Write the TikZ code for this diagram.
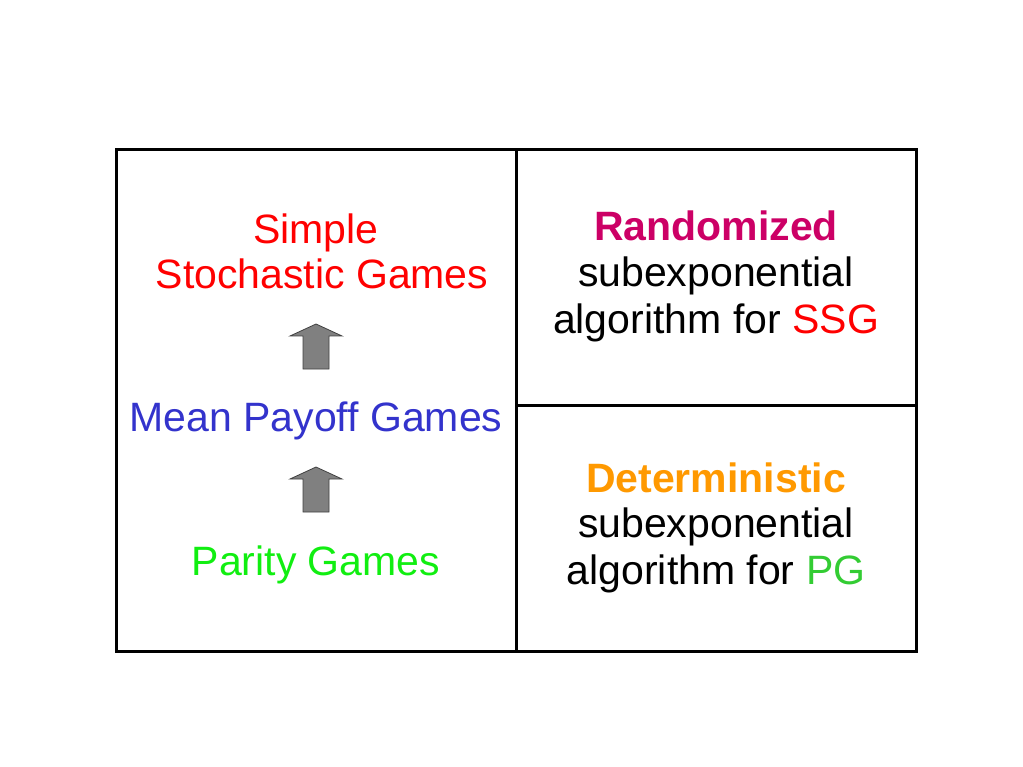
\documentclass[tikz,border=0pt]{standalone}
\usepackage{fontspec}
\setmainfont{Liberation Sans}
\definecolor{ssgred}{HTML}{FF0000}
\definecolor{mpgblue}{HTML}{3333CC}
\definecolor{pggreen}{HTML}{11EE11}
\definecolor{pgdark}{HTML}{33CC33}
\definecolor{randcol}{HTML}{CC0066}
\definecolor{detcol}{HTML}{FF9900}
\definecolor{arrowgray}{HTML}{808080}
\tikzset{
  txt/.style={anchor=base, inner sep=0pt, font=\fontsize{41}{46}\selectfont},
  grid/.style={line width=3pt, black},
  uparrow/.style={draw=black!75, line width=0.8pt, fill=arrowgray, line join=miter}
}
\newcommand{\myuparrow}[2]{% #1 = x centre, #2 = y bottom
  \draw[uparrow] (#1-13,#2) -- (#1-13,#2-33) -- (#1-26,#2-33) -- (#1,#2-45)
    -- (#1+26,#2-33) -- (#1+13,#2-33) -- (#1+13,#2) -- cycle;}
\begin{document}
\begin{tikzpicture}[x=1pt,y=-1pt]
\useasboundingbox (0,0) rectangle (1023,767);
\draw[grid] (116,150) rectangle (916,651);
\draw[grid] (516,150) -- (516,651);
\draw[grid] (516,405) -- (916,405);
% left column
\node[txt, text=ssgred] (simple) at (316,244) {Simple};
\node[txt, text=ssgred] (stoch) at (322,289) {Stochastic Games};
\node[txt, text=mpgblue] (mpg) at (316,431) {Mean Payoff Games};
\node[txt, text=pggreen] (pg) at (316,575) {Parity Games};
\myuparrow{316}{369}
\myuparrow{316}{512}
% right column
\node[txt, text=randcol, font=\fontsize{41}{46}\selectfont\bfseries] (rand) at (716,241) {Randomized};
\node[txt] (sub1) at (716,287) {subexponential};
\node[txt] (alg1) at (716,334) {algorithm for \textcolor{ssgred}{SSG}};
\node[txt, text=detcol, font=\fontsize{41}{46}\selectfont\bfseries] (det) at (716,492) {Deterministic};
\node[txt] (sub2) at (716,537) {subexponential};
\node[txt] (alg2) at (716,584) {algorithm for \textcolor{pgdark}{PG}};
\end{tikzpicture}
\end{document}
